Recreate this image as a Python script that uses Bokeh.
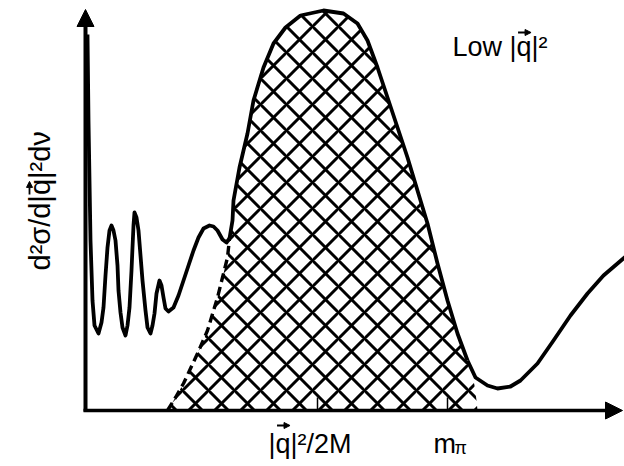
import numpy as np
from bokeh.plotting import figure
from bokeh.models import Range1d, Arrow, NormalHead
from bokeh.core.properties import value
from bokeh.embed import file_html
from bokeh.resources import INLINE

# ---- data (energy transfer nu vs cross-section, arbitrary units) ----
# elastic spike + nuclear excited states (low nu)
low_x = [2, 3, 5, 7, 9, 13, 16, 18, 20, 22, 24, 26, 28, 30, 32, 33, 35, 37, 40,
         42, 44, 46, 47, 48, 49, 51, 53, 55, 57, 60, 62, 65, 67, 69, 71, 74, 76,
         78, 80, 83, 88, 93, 98, 103, 108, 113, 118, 124, 128, 132, 137, 141, 144]
low_y = [376, 290, 170, 110, 85, 77, 88, 103, 135, 163, 180, 185, 180, 170, 145,
         120, 98, 83, 75, 85, 103, 140, 163, 185, 198, 193, 180, 155, 130, 100,
         83, 77, 85, 97, 117, 130, 125, 113, 102, 99, 103, 115, 130, 145, 160,
         173, 182, 185, 184, 180, 171, 168, 172]

# quasi-elastic peak (hatched)
qe_x = [82, 90, 98, 105, 112, 122, 132, 137, 142, 144, 147, 148, 154, 162, 168,
        178, 188, 200, 215, 238, 258, 272, 282, 292, 302, 312, 322, 335, 342,
        352, 362, 372, 382, 386, 389, 391, 392]
qe_y = [0, 13, 27, 42, 57, 80, 113, 133, 153, 172, 190, 210, 243, 277, 310,
        343, 367, 383, 395, 400, 397, 387, 370, 343, 313, 283, 253, 210, 187,
        147, 110, 77, 50, 40, 25, 10, 0]
qe_dash_end = 144     # dashed flank below this nu

# pion-production rise (high nu)
high_x = [382, 390, 402, 412, 425, 435, 452, 468, 485, 502, 518, 539, 547]
high_y = [50, 33, 25, 22, 24, 30, 47, 70, 95, 117, 135, 153, 160]

tick_pos = [232, 362]
tick_labels = ["|q|\u00b2/2M", "m"]
y_label = "d\u00b2\u03c3/d|q|\u00b2d\u03bd"
note = "Low |q|\u00b2"

FONT = value("Liberation Sans")
# Arial/Liberation Sans advance widths (em) used to place vector arrows over "q"
W = {"|": 0.26, "q": 0.556, "d": 0.556, "\u00b2": 0.333, "\u03c3": 0.57, "/": 0.278,
     "L": 0.556, "o": 0.556, "w": 0.722, " ": 0.278}


def q_center(s, size):
    i = s.index("q")
    return sum(W[c] for c in s[:i]) * size + 0.5 * W["q"] * size


p = figure(width=624, height=466, x_range=Range1d(-85, 539), y_range=Range1d(-56, 410),
           output_backend="svg", toolbar_location=None, min_border=0,
           x_axis_location=None, y_axis_location=None)
p.grid.visible = False
p.outline_line_color = None
p.background_fill_color = "white"
p.border_fill_color = "white"

# hatched quasi-elastic region
p.patch(qe_x, qe_y, fill_alpha=0, line_color=None,
        hatch_pattern="diagonal_cross", hatch_scale=26, hatch_weight=3,
        hatch_color="black")

qx = np.array(qe_x); qy = np.array(qe_y)
dm = qx <= qe_dash_end
sm = (qx >= qe_dash_end) & (qx <= high_x[0])
p.line(qx[dm], qy[dm], line_color="black", line_width=3.4, line_dash="9 5")
p.line(qx[sm], qy[sm], line_color="black", line_width=3.8, line_join="round")
p.line(low_x, low_y, line_color="black", line_width=3.8, line_join="round")
p.line(high_x, high_y, line_color="black", line_width=3.8, line_join="round")

# small ticks on baseline
p.segment(x0=tick_pos, y0=[0] * len(tick_pos), x1=tick_pos, y1=[13] * len(tick_pos),
          line_color="black", line_width=1.5)

# axes as arrows
p.add_layout(Arrow(x_start=0, y_start=-1, x_end=0, y_end=401, line_width=4,
                   end=NormalHead(size=17, fill_color="black", line_color="black")))
p.add_layout(Arrow(x_start=-2, y_start=0, x_end=537, y_end=0, line_width=3.5,
                   end=NormalHead(size=17, fill_color="black", line_color="black")))


def small_arrow(x0, y0, x1, y1):
    p.add_layout(Arrow(x_start=x0, y_start=y0, x_end=x1, y_end=y1, line_width=1.8,
                       end=NormalHead(size=6, fill_color="black", line_color="black",
                                      line_width=1)))


# --- tick labels ---
fs = 27
lab_left = 183
lab_base = -33
p.text(x=[lab_left], y=[lab_base], text=[tick_labels[0]], text_font=FONT,
       text_font_size=value(f"{fs}px"), text_align="left", text_baseline="alphabetic",
       text_color="black")
qc = lab_left + q_center(tick_labels[0], fs)
small_arrow(qc - 6, -15, qc + 7, -15)

p.text(x=[tick_pos[1] - 14], y=[lab_base], text=[tick_labels[1]], text_font=FONT,
       text_font_size=value(f"{fs}px"), text_align="left", text_baseline="alphabetic",
       text_color="black")
p.text(x=[tick_pos[1] + 7], y=[lab_base - 4], text=["\u03c0"], text_font=FONT,
       text_font_size=value("18px"), text_align="left", text_baseline="alphabetic",
       text_color="black")

# --- y-axis label (rotated) ---
yfs = 29
y_start = 410 - 270
y_base = -46
p.text(x=[y_base], y=[y_start], text=[y_label], angle=np.pi / 2, text_font=FONT,
       text_font_size=value(f"{yfs}px"), text_align="left", text_baseline="alphabetic",
       text_color="black")
qy_c = y_start + q_center(y_label, yfs)
small_arrow(-56, qy_c - 6, -56, qy_c + 7)

# --- note ---
nfs = 27
p.text(x=[367], y=[364], text=[note], text_font=FONT,
       text_font_size=value(f"{nfs}px"), text_align="left", text_baseline="alphabetic",
       text_color="black")
nqc = 367 + q_center(note, nfs)
small_arrow(nqc - 6, 378, nqc + 7, 378)

open("out.html", "w").write(file_html(p, INLINE))
